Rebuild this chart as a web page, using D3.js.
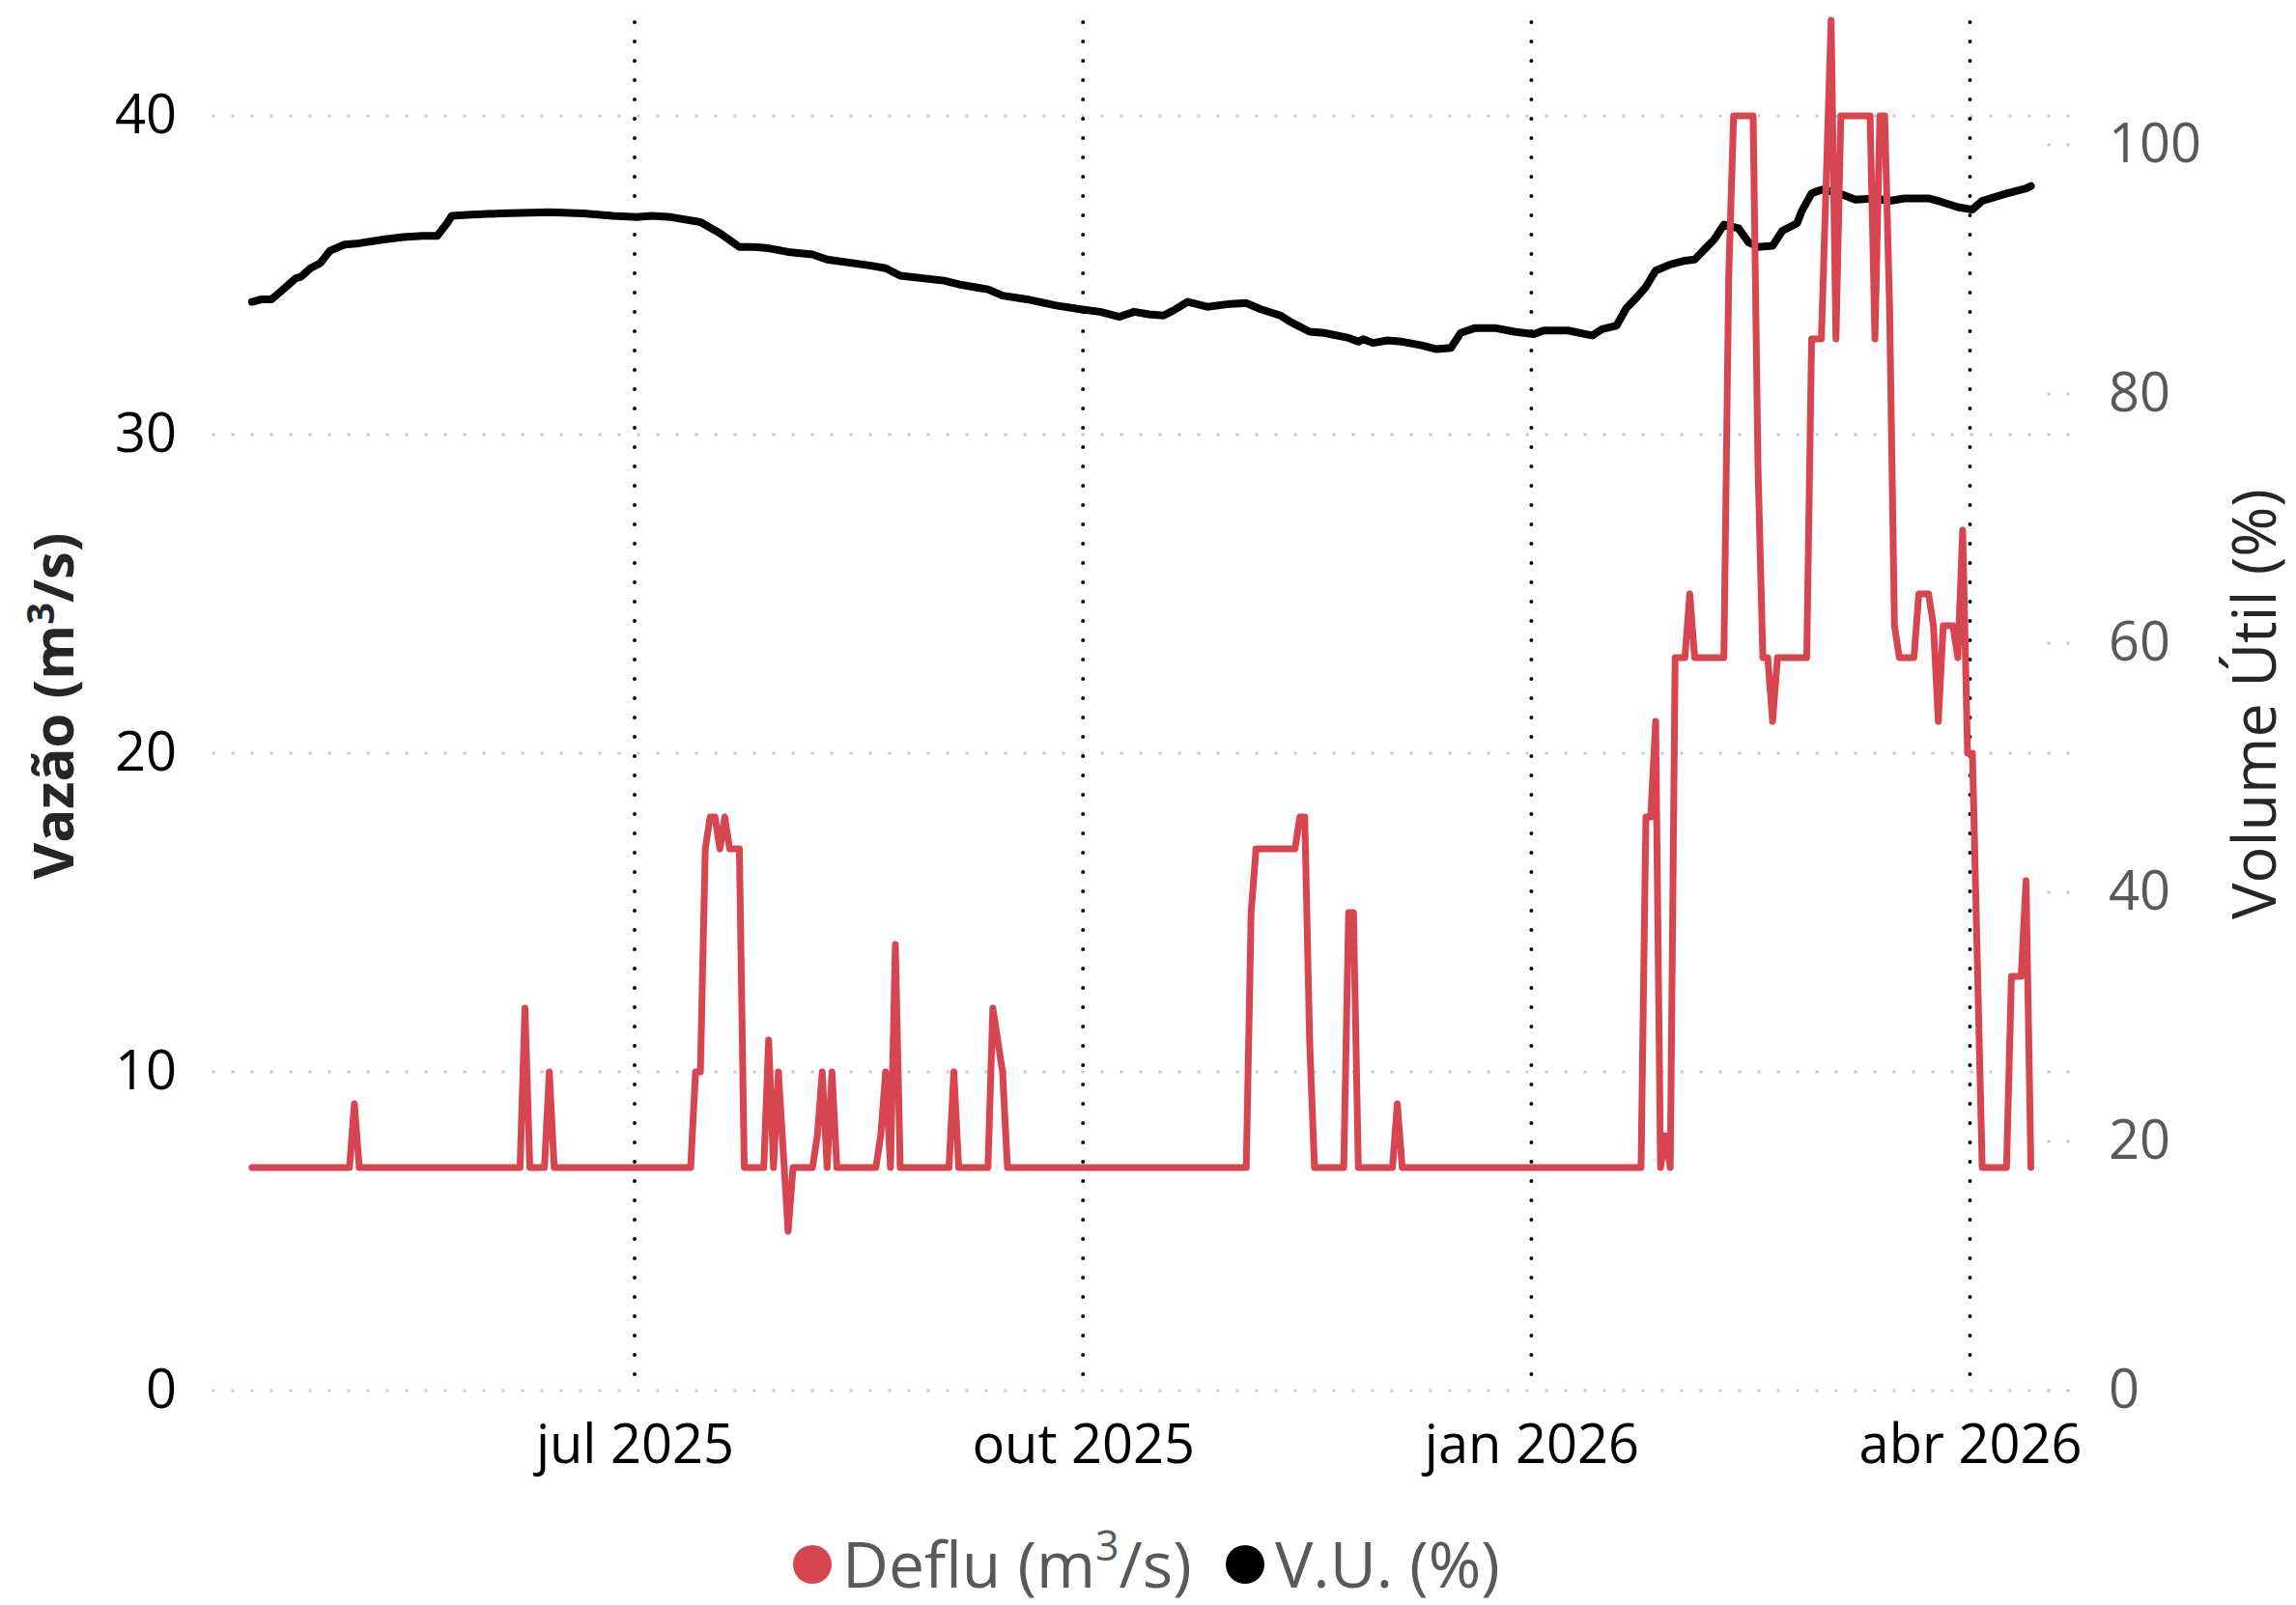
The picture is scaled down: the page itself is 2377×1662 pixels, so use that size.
<!DOCTYPE html>
<html>
<head>
<meta charset="utf-8">
<script src="https://cdn.jsdelivr.net/npm/d3@7"></script>
<style>
  body { margin: 0; background: #fff; }
  svg { display: block; }
  text { font-family: "Open Sans", "Noto Sans", sans-serif; }
</style>
</head>
<body>
<div id="chart"></div>
<script>
// Defluência (m3/s) - change points of the daily series
var defluDates = [
  '2025-04-13', '2025-05-03', '2025-05-04', '2025-05-05', '2025-06-07', '2025-06-08', '2025-06-09',
  '2025-06-12', '2025-06-13', '2025-06-14', '2025-07-12', '2025-07-13', '2025-07-14', '2025-07-15',
  '2025-07-16', '2025-07-17', '2025-07-18', '2025-07-19', '2025-07-20', '2025-07-22', '2025-07-23',
  '2025-07-27', '2025-07-28', '2025-07-29', '2025-07-30', '2025-08-01', '2025-08-02', '2025-08-06',
  '2025-08-07', '2025-08-08', '2025-08-09', '2025-08-10', '2025-08-11', '2025-08-19', '2025-08-20',
  '2025-08-21', '2025-08-22', '2025-08-23', '2025-08-24', '2025-09-03', '2025-09-04', '2025-09-05',
  '2025-09-11', '2025-09-12', '2025-09-14', '2025-09-15', '2025-11-03', '2025-11-04', '2025-11-05',
  '2025-11-13', '2025-11-14', '2025-11-15', '2025-11-16', '2025-11-17', '2025-11-23', '2025-11-24',
  '2025-11-25', '2025-11-26', '2025-12-03', '2025-12-04', '2025-12-05', '2026-01-23', '2026-01-24',
  '2026-01-25', '2026-01-26', '2026-01-27', '2026-01-28', '2026-01-29', '2026-01-30', '2026-02-01',
  '2026-02-02', '2026-02-03', '2026-02-09', '2026-02-10', '2026-02-11', '2026-02-15', '2026-02-16',
  '2026-02-17', '2026-02-18', '2026-02-19', '2026-02-20', '2026-02-26', '2026-02-27', '2026-03-01',
  '2026-03-03', '2026-03-04', '2026-03-05', '2026-03-11', '2026-03-12', '2026-03-13', '2026-03-14',
  '2026-03-15', '2026-03-16', '2026-03-17', '2026-03-20', '2026-03-21', '2026-03-23', '2026-03-24',
  '2026-03-25', '2026-03-26', '2026-03-28', '2026-03-29', '2026-03-30', '2026-03-31', '2026-04-01',
  '2026-04-03', '2026-04-08', '2026-04-09', '2026-04-11', '2026-04-12', '2026-04-13'
];
var defluValues = [
  7, 7, 9, 7, 7, 12, 7,
  7, 10, 7, 7, 10, 10, 17,
  18, 18, 17, 18, 17, 17, 7,
  7, 11, 7, 10, 5, 7, 7,
  8, 10, 7, 10, 7, 7, 8,
  10, 7, 14, 7, 7, 10, 7,
  7, 12, 10, 7, 7, 15, 17,
  17, 18, 18, 11, 7, 7, 15,
  15, 7, 7, 9, 7, 7, 18,
  18, 21, 7, 8, 7, 23, 23,
  25, 23, 23, 35, 40, 40, 29,
  23, 23, 21, 23, 23, 33, 33,
  43, 33, 40, 40, 33, 40, 40,
  34, 24, 23, 23, 25, 25, 24,
  21, 24, 24, 23, 27, 20, 20,
  7, 7, 13, 13, 16, 7
];

// Volume útil (%)
var vuDates = [
  '2025-04-13', '2025-04-15', '2025-04-17', '2025-04-20', '2025-04-22', '2025-04-23', '2025-04-25',
  '2025-04-27', '2025-04-29', '2025-05-02', '2025-05-05', '2025-05-10', '2025-05-14', '2025-05-18',
  '2025-05-21', '2025-05-23', '2025-05-24', '2025-05-28', '2025-06-03', '2025-06-13', '2025-06-20',
  '2025-06-26', '2025-07-01', '2025-07-04', '2025-07-08', '2025-07-14', '2025-07-18', '2025-07-22',
  '2025-07-25', '2025-07-28', '2025-08-01', '2025-08-06', '2025-08-09', '2025-08-18', '2025-08-21',
  '2025-08-24', '2025-09-02', '2025-09-05', '2025-09-11', '2025-09-14', '2025-09-19', '2025-09-25',
  '2025-09-30', '2025-10-04', '2025-10-08', '2025-10-11', '2025-10-14', '2025-10-17', '2025-10-19',
  '2025-10-22', '2025-10-26', '2025-10-30', '2025-11-03', '2025-11-06', '2025-11-10', '2025-11-12',
  '2025-11-16', '2025-11-19', '2025-11-24', '2025-11-26', '2025-11-27', '2025-11-29', '2025-12-02',
  '2025-12-05', '2025-12-09', '2025-12-12', '2025-12-15', '2025-12-17', '2025-12-20', '2025-12-24',
  '2025-12-28', '2026-01-01', '2026-01-03', '2026-01-08', '2026-01-13', '2026-01-15', '2026-01-18',
  '2026-01-20', '2026-01-22', '2026-01-24', '2026-01-26', '2026-01-29', '2026-02-01', '2026-02-03',
  '2026-02-05', '2026-02-07', '2026-02-09', '2026-02-12', '2026-02-14', '2026-02-16', '2026-02-19',
  '2026-02-21', '2026-02-24', '2026-02-25', '2026-02-27', '2026-03-01', '2026-03-04', '2026-03-08',
  '2026-03-12', '2026-03-15', '2026-03-18', '2026-03-23', '2026-03-25', '2026-03-29', '2026-04-01',
  '2026-04-03', '2026-04-08', '2026-04-12', '2026-04-13'
];
var vuValues = [
  87.4, 87.6, 87.6, 88.6, 89.3, 89.4, 90.1,
  90.5, 91.5, 92.0, 92.1, 92.4, 92.6, 92.7,
  92.7, 93.7, 94.3, 94.4, 94.5, 94.6, 94.5,
  94.3, 94.2, 94.3, 94.2, 93.8, 92.9, 91.8,
  91.8, 91.7, 91.4, 91.2, 90.8, 90.3, 90.1,
  89.5, 89.1, 88.8, 88.4, 87.9, 87.6, 87.1,
  86.8, 86.6, 86.2, 86.6, 86.4, 86.3, 86.7,
  87.4, 87.0, 87.2, 87.3, 86.8, 86.3, 85.8,
  85.0, 84.9, 84.5, 84.2, 84.4, 84.1, 84.3,
  84.2, 83.9, 83.6, 83.7, 84.9, 85.3, 85.3,
  85.0, 84.8, 85.1, 85.1, 84.7, 85.2, 85.5,
  86.9, 87.7, 88.6, 89.9, 90.4, 90.7, 90.8,
  91.6, 92.4, 93.6, 93.3, 92.2, 91.8, 91.9,
  93.1, 93.7, 94.7, 96.1, 96.4, 96.2, 95.6,
  95.7, 95.5, 95.7, 95.7, 95.5, 95.0, 94.8,
  95.5, 96.1, 96.5, 96.7
];

var monthTicks = ['2025-07-01', '2025-10-01', '2026-01-01', '2026-04-01'];
var leftTicks = [0, 10, 20, 30, 40];
var rightTicks = [0, 20, 40, 60, 80, 100];

var W = 2377, H = 1662
  , plotLeft = 221, plotRight = 2148, plotTop = 23, plotBottom = 1443
  , red = '#d64550'
  ;

var parseDay = d3.timeParse('%Y-%m-%d');

var pt = d3.timeFormatLocale({
  dateTime: '%d/%m/%Y %H:%M:%S', date: '%d/%m/%Y', time: '%H:%M:%S', periods: ['AM', 'PM'],
  days: ['domingo', 'segunda', 'terça', 'quarta', 'quinta', 'sexta', 'sábado'],
  shortDays: ['dom', 'seg', 'ter', 'qua', 'qui', 'sex', 'sáb'],
  months: ['janeiro', 'fevereiro', 'março', 'abril', 'maio', 'junho', 'julho', 'agosto', 'setembro', 'outubro', 'novembro', 'dezembro'],
  shortMonths: ['jan', 'fev', 'mar', 'abr', 'mai', 'jun', 'jul', 'ago', 'set', 'out', 'nov', 'dez']
});

function toPoints(dates, values) {
  // points sit at mid-day
  return dates.map(function (s, i) {
    return { date: d3.timeHour.offset(parseDay(s), 12), value: values[i] };
  });
}

var deflu = toPoints(defluDates, defluValues)
  , vu = toPoints(vuDates, vuValues)
  , months = monthTicks.map(parseDay)
  ;

var x = d3.scaleTime()
  .domain([parseDay('2025-07-01'), parseDay('2026-04-01')])
  .range([657, 2039.5]);
var y = d3.scaleLinear().domain([0, 40]).range([1440, 120]);
var y2 = d3.scaleLinear().domain([0, 100]).range([1440, 150]);

var svg = d3.select('#chart').append('svg')
  .attr('width', W).attr('height', H)
  .attr('viewBox', '0 0 ' + W + ' ' + H);

// horizontal grid (left axis)
svg.append('g').selectAll('line').data(leftTicks).enter().append('line')
  .attr('x1', plotLeft).attr('x2', plotRight)
  .attr('y1', function (d) { return y(d); })
  .attr('y2', function (d) { return y(d); })
  .attr('stroke', '#c9c9c9').attr('stroke-width', 3.4)
  .attr('stroke-linecap', 'round').attr('stroke-dasharray', '0,20');

// horizontal grid (right axis) - only visible at the right edge
svg.append('g').selectAll('line').data(rightTicks).enter().append('line')
  .attr('x1', plotLeft + 1900).attr('x2', plotRight)
  .attr('y1', function (d) { return y2(d); })
  .attr('y2', function (d) { return y2(d); })
  .attr('stroke', '#c9c9c9').attr('stroke-width', 3.4)
  .attr('stroke-linecap', 'round').attr('stroke-dasharray', '0,20');

// vertical month lines
svg.append('g').selectAll('line').data(months).enter().append('line')
  .attr('x1', function (d) { return x(d); })
  .attr('x2', function (d) { return x(d); })
  .attr('y1', plotTop).attr('y2', plotBottom)
  .attr('stroke', '#000').attr('stroke-width', 4)
  .attr('stroke-linecap', 'round').attr('stroke-dasharray', '0,20');

// axes
var xAxis = svg.append('g')
  .attr('transform', 'translate(0,' + plotBottom + ')')
  .call(d3.axisBottom(x).tickValues(months).tickFormat(pt.format('%b %Y')).tickSize(0).tickPadding(32));

var yAxis = svg.append('g')
  .attr('transform', 'translate(' + plotLeft + ',0)')
  .call(d3.axisLeft(y).tickValues(leftTicks).tickSize(0).tickPadding(38));

var y2Axis = svg.append('g')
  .attr('transform', 'translate(' + plotRight + ',0)')
  .call(d3.axisRight(y2).tickValues(rightTicks).tickSize(0).tickPadding(35));

[xAxis, yAxis, y2Axis].forEach(function (g) {
  g.select('.domain').remove();
  g.selectAll('text').attr('font-size', 56).attr('font-family', '"Open Sans", sans-serif');
});
xAxis.selectAll('text').attr('fill', '#000');
yAxis.selectAll('text').attr('fill', '#000');
y2Axis.selectAll('text').attr('fill', '#595959');

// axis titles
var lt = svg.append('text')
  .attr('transform', 'translate(76,731) rotate(-90)')
  .attr('text-anchor', 'middle')
  .attr('font-size', 58).attr('font-weight', 700).attr('fill', '#262626');
lt.append('tspan').text('Vazão (m');
lt.append('tspan').attr('font-size', 40).attr('dy', -20).text('3');
lt.append('tspan').attr('dy', 20).text('/s)');

svg.append('text')
  .attr('transform', 'translate(2356,729) rotate(-90)')
  .attr('text-anchor', 'middle')
  .attr('font-size', 63).attr('fill', '#262626')
  .text('Volume Útil (%)');

// series
var line = d3.line()
  .x(function (d) { return x(d.date); });

svg.append('path')
  .datum(vu)
  .attr('d', line.y(function (d) { return y2(d.value); }))
  .attr('fill', 'none').attr('stroke', '#000').attr('stroke-width', 8)
  .attr('stroke-linejoin', 'round').attr('stroke-linecap', 'round');

svg.append('path')
  .datum(deflu)
  .attr('d', line.y(function (d) { return y(d.value); }))
  .attr('fill', 'none').attr('stroke', red).attr('stroke-width', 7)
  .attr('stroke-linejoin', 'round').attr('stroke-linecap', 'round');

// legend
var legend = svg.append('g').attr('font-size', 66).attr('fill', '#595959');
legend.append('circle').attr('cx', 841).attr('cy', 1620).attr('r', 20).attr('fill', red);
var l1 = legend.append('text').attr('x', 872).attr('y', 1644);
l1.append('tspan').text('Deflu (m');
l1.append('tspan').attr('font-size', 43).attr('dy', -28).text('3');
l1.append('tspan').attr('dy', 28).text('/s)');
legend.append('circle').attr('cx', 1289).attr('cy', 1620).attr('r', 20).attr('fill', '#000');
legend.append('text').attr('x', 1320).attr('y', 1644).text('V.U. (%)');
</script>
</body>
</html>
